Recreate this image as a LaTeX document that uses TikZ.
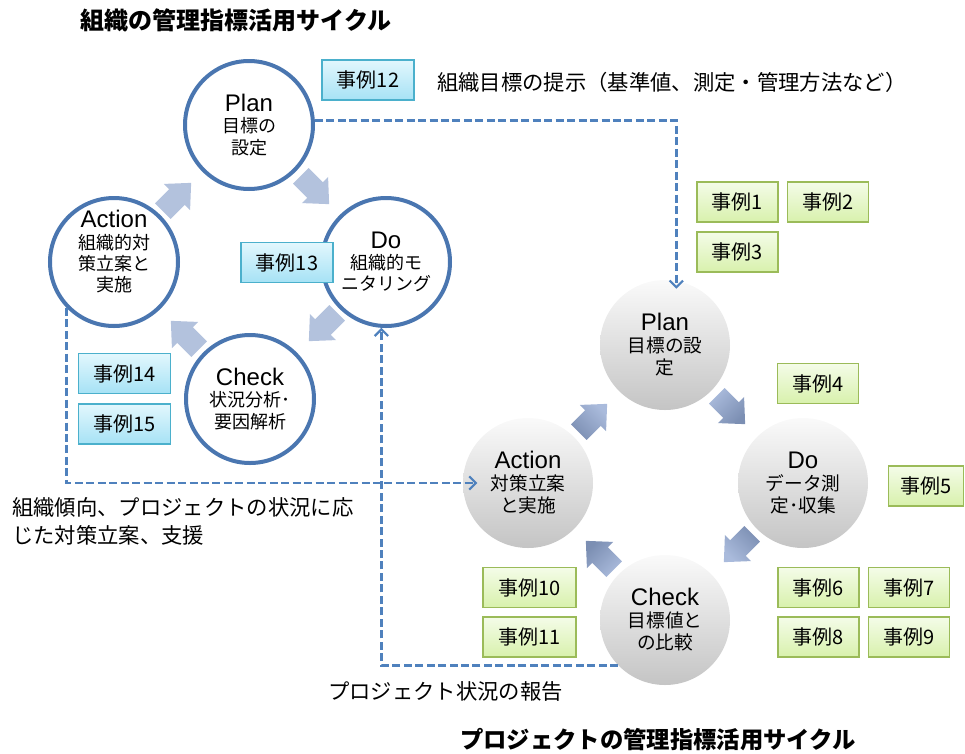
\documentclass[tikz,border=0pt]{standalone}
\usepackage{fontspec}
\setmainfont{Noto Sans CJK JP}
\newfontfamily\latfont{Liberation Sans}
\usetikzlibrary{arrows.meta}
\definecolor{cblue}{HTML}{4A76B0}
\definecolor{dashblue}{HTML}{4F81BD}
\definecolor{larrow}{HTML}{B3C2DD}
\definecolor{rarrowtop}{HTML}{AABBDC}
\definecolor{rarrowbot}{HTML}{7C8FB3}
\definecolor{cyanline}{HTML}{4BB0CC}
\definecolor{cyantop}{HTML}{E2F7FD}
\definecolor{cyanbot}{HTML}{A6E2F5}
\definecolor{greenline}{HTML}{9BBB59}
\definecolor{greentop}{HTML}{F4FCE8}
\definecolor{greenbot}{HTML}{D8F1AC}
\newcommand\cyhead[1]{{\latfont\fontsize{18}{18}\selectfont #1}}
\tikzset{
  lcirc/.style={circle, draw=cblue, line width=3pt, fill=white, minimum size=96pt, inner sep=0pt, align=center, font=\fontsize{13.5}{16}\selectfont},
  rcirc/.style={circle, top color=gray!4, bottom color=gray!46, minimum size=97.5pt, inner sep=0pt, align=center, font=\fontsize{14}{16.5}\selectfont},
  cbox/.style={draw=cyanline, line width=1.1pt, top color=cyantop, bottom color=cyanbot, minimum width=69pt, minimum height=30pt, inner sep=0pt, font=\fontsize{15}{15}\selectfont},
  gbox/.style={draw=greenline, line width=1.1pt, top color=greentop, bottom color=greenbot, minimum width=61pt, minimum height=30pt, inner sep=0pt, font=\fontsize{15}{15}\selectfont},
  dashline/.style={draw=dashblue, line width=2pt, dash pattern=on 6pt off 2.6pt, -{Straight Barb[length=5pt,width=10pt,line width=1.6pt]}},
  plaintext/.style={inner sep=0pt, font=\fontsize{16}{21}\selectfont},
  pics/barrow/.style={code={\path[pic actions] (-20,-11) -- (0,-11) -- (0,-18.5) -- (20,0) -- (0,18.5) -- (0,11) -- (-20,11) -- cycle;}}
}
\begin{document}
\begin{tikzpicture}[x=0.75pt,y=-0.75pt]
\useasboundingbox (0,0) rectangle (965,754);

% titles
\node[inner sep=0pt, font=\fontsize{18}{18}\selectfont\bfseries] (t1) at (236,20) {組織の管理指標活用サイクル};
\node[inner sep=0pt, font=\fontsize{17.5}{18}\selectfont\bfseries] (t2) at (658,740) {プロジェクトの管理指標活用サイクル};

% left cycle block arrows
\pic[rotate=45, fill=larrow] (la1) at (177,197) {barrow};
\pic[rotate=-45, fill=larrow] (la2) at (315,190) {barrow};
\pic[rotate=-135, fill=larrow] (la3) at (323,327) {barrow};
\pic[rotate=135, fill=larrow] (la4) at (185,335) {barrow};

% left cycle circles
\node[lcirc] (pL) at (249,125) {\cyhead{Plan}\\目標の\\設定};
\node[lcirc] (aL) at (114,262) {};
\node[inner sep=0pt, align=center, font=\fontsize{13.5}{16}\selectfont] (aLt) at (114,252) {\cyhead{Action}\\組織的対\\策立案と\\実施};
\node[lcirc] (dL) at (386,262) {\cyhead{Do}\\組織的モ\\ニタリング};
\node[lcirc] (kL) at (250,399) {\cyhead{Check}\\状況分析･\\要因解析};

% right cycle block arrows
\pic[rotate=45, top color=rarrowtop, bottom color=rarrowbot, shading angle=-45] (ra1) at (593,418) {barrow};
\pic[rotate=-45, top color=rarrowtop, bottom color=rarrowbot, shading angle=45] (ra2) at (731,410) {barrow};
\pic[rotate=-135, top color=rarrowtop, bottom color=rarrowbot, shading angle=135] (ra3) at (738,548) {barrow};
\pic[rotate=135, top color=rarrowtop, bottom color=rarrowbot, shading angle=-135] (ra4) at (600,555) {barrow};

% right cycle circles
\node[rcirc] (pR) at (665,345) {\cyhead{Plan}\\目標の設\\定};
\node[rcirc] (aR) at (528,483) {\cyhead{Action}\\対策立案\\と実施};
\node[rcirc] (dR) at (803,483) {\cyhead{Do}\\データ測\\定･収集};
\node[rcirc] (kR) at (665,620) {\cyhead{Check}\\目標値と\\の比較};

% cyan boxes
\node[cbox] (c12) at (368,80) {事例12};
\node[cbox] (c13) at (287,262.5) {事例13};
\node[cbox] (c14) at (124.5,373.5) {事例14};
\node[cbox] (c15) at (124.5,424) {事例15};

% green boxes
\node[gbox] (g1) at (737.5,202) {事例1};
\node[gbox] (g2) at (828,202) {事例2};
\node[gbox] (g3) at (737.5,252) {事例3};
\node[gbox] (g4) at (818,383.5) {事例4};
\node[gbox, minimum width=56pt] (g5) at (926,486) {事例5};
\node[gbox] (g6) at (818.5,587.5) {事例6};
\node[gbox] (g7) at (909,587.5) {事例7};
\node[gbox] (g8) at (818.5,637) {事例8};
\node[gbox] (g9) at (909,637) {事例9};
\node[gbox, minimum width=70pt] (g10) at (529.5,587.5) {事例10};
\node[gbox, minimum width=70pt] (g11) at (529.5,637) {事例11};

% texts
\node[plaintext, anchor=west] (txt1) at (437,82) {組織目標の提示（基準値、測定・管理方法など）};
\node[plaintext, anchor=west, align=left] (txt2) at (12,521) {組織傾向、プロジェクトの状況に応\\じた対策立案、支援};
\node[plaintext, anchor=west] (txt3) at (328,691) {プロジェクト状況の報告};

% dashed connectors
\draw[dashline] (pL.4) -| ([yshift=-6pt]pR.80);
\draw[dashline] (aL.224) |- ([xshift=11pt]aR.west);
\draw[dashline] (kR.224) -| (dL.266);
\end{tikzpicture}
\end{document}
